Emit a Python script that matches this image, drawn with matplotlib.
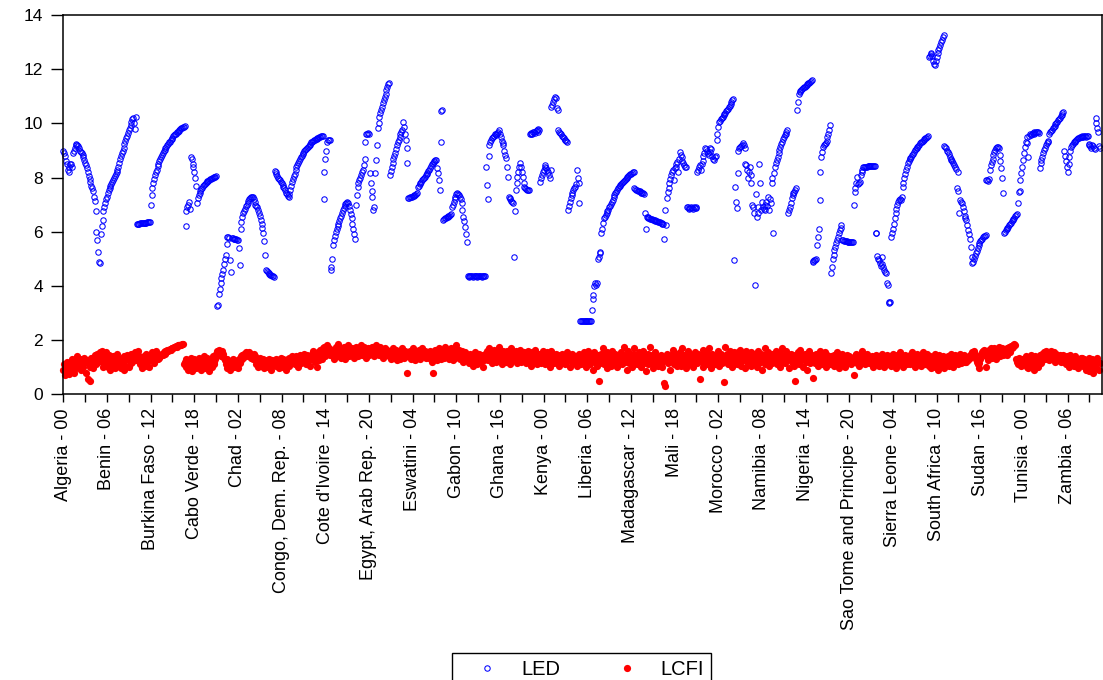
import matplotlib
matplotlib.use("Agg")
import matplotlib.pyplot as plt
from matplotlib import font_manager
import numpy as np

# panel: 54 countries x 22 years (2000-2021), stacked
countries = [
    "Algeria", "Angola", "Benin", "Botswana", "Burkina Faso", "Burundi",
    "Cabo Verde", "Cameroon", "Central African Republic", "Chad", "Comoros",
    "Congo, Dem. Rep.", "Congo, Rep.", "Cote d'Ivoire", "Djibouti",
    "Egypt, Arab Rep.", "Equatorial Guinea", "Eritrea", "Eswatini", "Ethiopia",
    "Gabon", "Gambia, The", "Ghana", "Guinea", "Guinea-Bissau", "Kenya",
    "Lesotho", "Liberia", "Libya", "Madagascar", "Malawi", "Mali",
    "Mauritania", "Mauritius", "Morocco", "Mozambique", "Namibia", "Niger",
    "Nigeria", "Rwanda", "Sao Tome and Principe", "Senegal", "Seychelles",
    "Sierra Leone", "Somalia", "South Africa", "South Sudan", "Sudan",
    "Tanzania", "Togo", "Tunisia", "Uganda", "Zambia", "Zimbabwe",
]
years = ["%02d" % y for y in range(22)]

led = [
    9.0, 8.9, 8.8, 8.6, 8.5, 8.3, 8.2, 8.4, 8.5, 8.5, 8.4, 8.9, 9.0, 9.1, 9.2, 9.25, 9.2, 9.15, 9.1, 9.0, 8.95, 8.9,
    8.85, 8.75, 8.65, 8.55, 8.45, 8.35, 8.2, 8.05, 7.95, 7.85, 7.7, 7.6, 7.5, 7.3, 7.15, 6.75, 6.0, 5.7, 5.25, 4.9, 4.85, 5.9,
    6.2, 6.45, 6.75, 6.9, 7.05, 7.2, 7.3, 7.45, 7.55, 7.62, 7.7, 7.78, 7.85, 7.92, 8.0, 8.05, 8.12, 8.2, 8.3, 8.4, 8.55, 8.7,
    8.8, 8.9, 9.0, 9.1, 9.25, 9.35, 9.45, 9.55, 9.65, 9.75, 9.85, 9.95, 10.05, 10.15, 10.2, 10.0, 9.8, 10.25, 6.28, 6.29, 6.3, 6.3,
    6.31, 6.31, 6.32, 6.32, 6.33, 6.33, 6.34, 6.34, 6.35, 6.35, 6.36, 6.36, 7.0, 7.35, 7.6, 7.8, 7.95, 8.1, 8.2, 8.3, 8.42, 8.5,
    8.6, 8.7, 8.77, 8.83, 8.9, 8.97, 9.02, 9.08, 9.14, 9.2, 9.25, 9.3, 9.33, 9.38, 9.43, 9.48, 9.52, 9.56, 9.6, 9.63, 9.67, 9.7,
    9.73, 9.76, 9.79, 9.82, 9.84, 9.86, 9.88, 9.9, 6.2, 6.75, 6.9, 7.0, 7.1, 6.85, 8.75, 8.7, 8.4, 8.5, 8.2, 8.0, 7.7, 7.05,
    7.25, 7.35, 7.45, 7.52, 7.58, 7.63, 7.68, 7.72, 7.76, 7.8, 7.83, 7.86, 7.89, 7.92, 7.94, 7.96, 7.98, 8.0, 8.02, 8.03, 8.04, 8.05,
    3.25, 3.3, 3.7, 3.9, 4.1, 4.3, 4.45, 4.6, 4.8, 5.0, 5.15, 5.55, 5.8, 5.8, 5.78, 4.95, 4.5, 5.78, 5.76, 5.75, 5.74, 5.73,
    5.72, 5.7, 5.7, 5.4, 4.77, 6.1, 6.35, 6.55, 6.68, 6.75, 6.85, 6.95, 7.0, 7.08, 7.15, 7.2, 7.25, 7.28, 7.3, 7.28, 7.2, 7.1,
    7.0, 6.95, 6.9, 6.8, 6.7, 6.6, 6.45, 6.3, 6.15, 5.95, 5.65, 5.15, 4.6, 4.55, 4.5, 4.47, 4.44, 4.42, 4.4, 4.38, 4.36, 4.34,
    8.25, 8.2, 8.12, 8.07, 8.0, 7.95, 7.9, 7.85, 7.8, 7.72, 7.66, 7.6, 7.53, 7.45, 7.38, 7.32, 7.3, 7.4, 7.55, 7.7, 7.85, 7.95,
    8.05, 8.15, 8.28, 8.38, 8.45, 8.55, 8.62, 8.7, 8.75, 8.8, 8.86, 8.92, 8.97, 9.02, 9.07, 9.1, 9.14, 9.18, 9.22, 9.26, 9.3, 9.33,
    9.36, 9.38, 9.4, 9.42, 9.44, 9.46, 9.48, 9.5, 9.51, 9.52, 9.53, 9.53, 7.2, 8.2, 8.7, 9.0, 9.3, 9.4, 9.38, 9.4, 4.6, 4.7,
    5.0, 5.5, 5.7, 5.85, 6.0, 6.1, 6.2, 6.3, 6.4, 6.5, 6.6, 6.7, 6.8, 6.88, 6.95, 7.02, 7.08, 7.11, 7.05, 6.95, 6.8, 6.65,
    6.5, 6.3, 6.1, 5.9, 5.73, 6.99, 7.36, 7.66, 7.8, 7.9, 8.0, 8.1, 8.2, 8.28, 8.46, 8.67, 9.3, 9.6, 9.63, 9.65, 9.6, 8.16,
    7.79, 7.5, 7.3, 6.8, 6.92, 8.16, 8.65, 9.2, 9.82, 10.0, 10.25, 10.4, 10.5, 10.62, 10.74, 10.86, 10.99, 11.1, 11.23, 11.35, 11.45, 11.48,
    8.1, 8.25, 8.4, 8.55, 8.7, 8.8, 8.9, 9.05, 9.2, 9.3, 9.4, 9.5, 9.6, 9.7, 9.76, 10.07, 9.88, 9.6, 9.39, 9.08, 8.53, 7.25,
    7.25, 7.27, 7.28, 7.3, 7.32, 7.33, 7.35, 7.37, 7.4, 7.42, 7.66, 7.7, 7.75, 7.8, 7.85, 7.9, 7.95, 8.0, 8.03, 8.08, 8.13, 8.18,
    8.23, 8.28, 8.35, 8.42, 8.5, 8.55, 8.58, 8.62, 8.65, 8.65, 8.34, 8.16, 7.9, 7.54, 9.33, 10.45, 10.5, 6.45, 6.48, 6.5, 6.52, 6.55,
    6.55, 6.58, 6.6, 6.62, 6.65, 6.93, 7.0, 7.1, 7.2, 7.3, 7.38, 7.42, 7.4, 7.35, 7.3, 7.2, 7.05, 6.8, 6.55, 6.4, 6.19, 5.9,
    5.63, 4.35, 4.35, 4.34, 4.35, 4.36, 4.35, 4.34, 4.35, 4.35, 4.36, 4.35, 4.34, 4.35, 4.35, 4.36, 4.35, 4.34, 4.35, 4.35, 4.36, 4.35,
    8.4, 7.73, 7.2, 8.8, 9.2, 9.3, 9.4, 9.45, 9.5, 9.55, 9.6, 9.58, 9.62, 9.65, 9.7, 9.75, 9.6, 9.5, 9.35, 9.27, 9.2, 9.0,
    8.85, 8.71, 8.4, 8.03, 7.3, 7.25, 7.2, 7.15, 7.1, 7.05, 5.07, 6.75, 7.54, 7.79, 8.03, 8.22, 8.4, 8.53, 8.4, 8.2, 8.03, 7.79,
    7.66, 7.6, 7.58, 7.56, 7.55, 7.55, 9.6, 9.62, 9.65, 9.6, 9.68, 9.7, 9.65, 9.72, 9.75, 9.7, 9.78, 9.75, 7.85, 8.0, 8.1, 8.2,
    8.3, 8.4, 8.46, 8.35, 8.3, 8.2, 8.1, 7.97, 8.3, 10.62, 10.7, 10.8, 10.9, 10.96, 10.95, 10.56, 10.5, 9.76, 9.7, 9.65, 9.6, 9.55,
    9.5, 9.45, 9.4, 9.39, 9.35, 9.3, 6.8, 6.95, 7.1, 7.25, 7.35, 7.45, 7.55, 7.6, 7.66, 7.75, 8.28, 8.0, 7.8, 7.05, 2.7, 2.7,
    2.7, 2.7, 2.7, 2.7, 2.7, 2.7, 2.7, 2.7, 2.7, 2.7, 2.7, 3.1, 3.5, 3.66, 4.0, 4.1, 4.05, 4.1, 5.0, 5.05, 5.2, 5.26,
    5.94, 6.1, 6.31, 6.5, 6.56, 6.62, 6.68, 6.75, 6.82, 6.9, 6.97, 7.04, 7.1, 7.19, 7.28, 7.36, 7.42, 7.48, 7.54, 7.6, 7.64, 7.68,
    7.72, 7.76, 7.8, 7.85, 7.88, 7.92, 7.96, 8.0, 8.03, 8.06, 8.09, 8.12, 8.15, 8.18, 8.2, 8.22, 7.6, 7.58, 7.55, 7.55, 7.5, 7.52,
    7.5, 7.48, 7.45, 7.45, 7.42, 7.4, 6.7, 6.1, 6.55, 6.53, 6.52, 6.5, 6.49, 6.47, 6.46, 6.45, 6.44, 6.42, 6.41, 6.4, 6.39, 6.37,
    6.36, 6.35, 6.33, 6.32, 6.3, 6.28, 5.75, 6.8, 6.25, 7.23, 7.48, 7.6, 7.79, 7.95, 8.1, 8.2, 8.28, 7.9, 8.35, 8.4, 8.5, 8.59,
    8.22, 8.7, 8.96, 8.85, 8.75, 8.6, 8.53, 8.45, 8.4, 8.4, 6.9, 6.9, 6.88, 6.85, 6.87, 6.9, 6.86, 6.85, 6.9, 6.88, 6.86, 6.9,
    8.2, 8.3, 8.4, 8.45, 8.3, 8.5, 8.8, 8.6, 8.9, 9.1, 9.05, 9.0, 8.9, 8.85, 8.95, 9.1, 9.05, 8.8, 8.7, 8.65, 8.75, 8.8,
    9.39, 9.6, 9.88, 10.05, 10.1, 10.15, 10.2, 10.25, 10.3, 10.35, 10.4, 10.45, 10.5, 10.55, 10.6, 10.65, 10.72, 10.8, 10.85, 10.9, 4.95, 7.66,
    7.11, 6.86, 8.16, 9.0, 9.1, 9.14, 9.18, 9.22, 9.27, 9.2, 9.1, 8.5, 8.46, 8.3, 8.0, 8.2, 8.4, 8.1, 7.8, 7.0, 6.9, 6.7,
    4.03, 7.4, 6.55, 6.9, 6.7, 8.5, 7.8, 6.8, 7.1, 6.9, 6.85, 7.0, 6.8, 7.1, 6.95, 7.3, 6.8, 7.2, 7.05, 7.97, 7.79, 5.94,
    8.16, 8.4, 8.55, 8.65, 8.78, 8.9, 9.02, 9.14, 9.24, 9.33, 9.42, 9.51, 9.57, 9.63, 9.7, 9.76, 6.68, 6.8, 6.93, 7.08, 7.23, 7.35,
    7.42, 7.48, 7.55, 7.6, 10.5, 10.8, 11.1, 11.15, 11.2, 11.23, 11.27, 11.3, 11.33, 11.36, 11.4, 11.42, 11.45, 11.48, 11.5, 11.53, 11.56, 11.6,
    4.9, 4.92, 4.95, 4.97, 5.0, 5.5, 5.8, 6.12, 7.17, 8.22, 8.77, 8.95, 9.14, 9.2, 9.24, 9.27, 9.35, 9.51, 9.6, 9.75, 9.94, 4.46,
    4.7, 5.0, 5.15, 5.33, 5.45, 5.57, 5.7, 5.81, 5.94, 6.06, 6.15, 6.25, 5.7, 5.68, 5.67, 5.66, 5.65, 5.65, 5.64, 5.64, 5.63, 5.63,
    5.63, 5.62, 5.62, 6.99, 7.48, 7.6, 7.79, 8.03, 7.75, 7.8, 7.85, 8.1, 8.2, 8.3, 8.38, 8.4, 8.4, 8.41, 8.41, 8.42, 8.42, 8.42,
    8.42, 8.43, 8.43, 8.43, 8.43, 8.43, 5.94, 5.95, 5.1, 5.0, 4.95, 4.85, 4.75, 5.05, 4.8, 4.7, 4.6, 4.5, 4.46, 4.1, 4.05, 3.4,
    3.38, 3.4, 5.8, 5.95, 6.1, 6.3, 6.5, 6.7, 6.85, 7.0, 7.1, 7.17, 7.2, 7.17, 7.3, 7.66, 7.8, 7.97, 8.12, 8.28, 8.4, 8.53,
    8.6, 8.67, 8.72, 8.77, 8.83, 8.88, 8.95, 9.02, 9.06, 9.1, 9.14, 9.18, 9.22, 9.27, 9.3, 9.33, 9.36, 9.39, 9.42, 9.45, 9.48, 9.5,
    9.53, 12.45, 12.5, 12.55, 12.6, 12.5, 12.3, 12.2, 12.16, 12.3, 12.47, 12.6, 12.7, 12.78, 12.9, 13.0, 13.1, 13.2, 13.27, 9.17, 9.14, 9.1,
    9.0, 8.95, 8.87, 8.77, 8.7, 8.65, 8.6, 8.53, 8.47, 8.4, 8.32, 7.6, 8.22, 7.5, 6.68, 7.17, 7.1, 7.05, 6.9, 6.75, 6.6, 6.5,
    6.43, 6.25, 6.06, 5.9, 5.75, 5.45, 5.08, 4.86, 4.9, 5.0, 5.1, 5.2, 5.3, 5.4, 5.5, 5.58, 5.65, 5.7, 5.75, 5.8, 5.83, 5.86,
    5.88, 7.9, 7.92, 7.88, 7.95, 8.28, 8.45, 8.59, 8.7, 8.83, 8.95, 9.02, 9.1, 9.14, 9.12, 9.08, 8.83, 8.6, 8.34, 7.97, 7.42, 5.94,
    6.0, 6.05, 6.1, 6.15, 6.19, 6.24, 6.29, 6.34, 6.38, 6.43, 6.48, 6.52, 6.57, 6.62, 6.65, 7.05, 7.48, 7.5, 7.9, 8.16, 8.4, 8.65,
    8.9, 9.14, 9.33, 9.5, 9.27, 8.77, 9.55, 9.6, 9.58, 9.62, 9.65, 9.6, 9.68, 9.65, 9.7, 9.68, 9.7, 9.65, 8.34, 8.53, 8.65, 8.77,
    8.9, 9.02, 9.1, 9.2, 9.27, 9.35, 9.3, 9.63, 9.68, 9.72, 9.77, 9.82, 9.87, 9.92, 9.97, 10.02, 10.07, 10.12, 10.17, 10.22, 10.27, 10.32,
    10.37, 10.43, 9.0, 8.8, 8.6, 8.4, 8.2, 8.5, 8.75, 9.0, 9.14, 9.2, 9.25, 9.3, 9.33, 9.36, 9.39, 9.42, 9.45, 9.47, 9.49, 9.5,
    9.5, 9.52, 9.5, 9.53, 9.55, 9.5, 9.55, 9.52, 9.25, 9.2, 9.15, 9.1, 9.2, 9.15, 9.1, 9.05, 10.2, 10.0, 9.85, 9.7, 9.15, 9.1,
]

lcfi = [
    0.9, 1.1, 0.7, 1.0, 1.2, 0.85, 1.05, 0.75, 1.15, 0.95, 1.3, 1.0, 0.8, 1.1, 1.25, 0.95, 1.4, 1.2, 1.05, 1.3, 0.9, 1.15,
    1.3, 1.0, 1.35, 1.2, 0.8, 1.25, 0.55, 1.1, 0.5, 1.0, 1.35, 1.2, 0.95, 1.25, 1.45, 1.1, 1.3, 1.5, 1.2, 1.4, 1.55, 1.3,
    1.6, 1.2, 1.0, 1.4, 1.1, 1.55, 1.3, 1.0, 1.45, 1.2, 0.9, 1.3, 1.1, 1.4, 1.25, 0.95, 1.35, 1.15, 1.5, 1.05, 1.3, 1.2,
    0.95, 1.35, 1.1, 1.4, 0.9, 1.25, 1.05, 1.45, 1.3, 1.0, 1.35, 1.15, 1.5, 1.2, 1.4, 1.3, 1.55, 1.25, 1.45, 1.35, 1.6, 1.4,
    1.1, 1.35, 0.95, 1.25, 1.4, 1.05, 1.3, 1.5, 1.2, 1.4, 1.0, 1.35, 1.25, 1.55, 1.3, 1.45, 1.15, 1.4, 1.6, 1.35, 1.5, 1.3,
    1.35, 1.4, 1.45, 1.5, 1.45, 1.55, 1.5, 1.6, 1.55, 1.62, 1.6, 1.65, 1.68, 1.65, 1.7, 1.72, 1.7, 1.75, 1.74, 1.78, 1.76, 1.8,
    1.8, 1.82, 1.83, 1.8, 1.84, 1.85, 1.1, 1.2, 1.0, 1.3, 1.15, 0.9, 1.25, 1.05, 1.35, 0.85, 1.2, 1.0, 1.3, 1.1, 0.95, 1.25,
    1.15, 1.35, 1.0, 1.25, 0.9, 1.3, 1.1, 1.4, 0.95, 1.2, 1.35, 1.05, 1.25, 0.85, 1.3, 1.15, 1.0, 1.4, 1.2, 1.1, 1.3, 1.5,
    1.6, 1.45, 1.65, 1.5, 1.55, 1.4, 1.6, 1.5, 1.35, 1.25, 1.1, 0.95, 1.3, 1.0, 1.2, 0.9, 1.15, 1.05, 1.3, 1.0, 1.25, 1.1,
    1.0, 1.2, 0.95, 1.3, 1.15, 1.4, 1.25, 1.45, 1.35, 1.5, 1.4, 1.55, 1.45, 1.5, 1.4, 1.55, 1.5, 1.35, 1.45, 1.3, 1.5, 1.4,
    1.3, 1.1, 1.25, 1.0, 1.2, 1.35, 1.05, 1.25, 1.15, 1.3, 0.95, 1.2, 1.1, 1.25, 1.0, 1.3, 1.15, 1.2, 0.9, 1.25, 1.1, 1.2,
    1.2, 1.05, 1.3, 1.1, 1.25, 0.95, 1.2, 1.35, 1.0, 1.15, 1.3, 1.1, 1.25, 0.9, 1.2, 1.3, 1.05, 1.35, 1.15, 1.25, 1.4, 1.2,
    1.3, 1.1, 1.4, 1.2, 1.35, 1.0, 1.25, 1.45, 1.15, 1.3, 1.4, 1.2, 1.5, 1.3, 1.1, 1.45, 1.25, 1.35, 1.05, 1.4, 1.3, 1.5,
    1.6, 1.4, 1.2, 1.5, 1.0, 1.35, 1.55, 1.25, 1.65, 1.45, 1.3, 1.7, 1.5, 1.75, 1.4, 1.6, 1.8, 1.55, 1.7, 1.45, 1.65, 1.5,
    1.5, 1.65, 1.3, 1.55, 1.75, 1.4, 1.6, 1.85, 1.5, 1.7, 1.35, 1.6, 1.45, 1.75, 1.55, 1.3, 1.65, 1.5, 1.8, 1.4, 1.6, 1.5,
    1.45, 1.7, 1.55, 1.35, 1.6, 1.75, 1.5, 1.65, 1.4, 1.7, 1.55, 1.8, 1.45, 1.6, 1.75, 1.5, 1.65, 1.35, 1.55, 1.7, 1.45, 1.6,
    1.7, 1.5, 1.75, 1.6, 1.4, 1.65, 1.8, 1.55, 1.7, 1.45, 1.6, 1.75, 1.5, 1.65, 1.35, 1.55, 1.7, 1.6, 1.45, 1.65, 1.5, 1.4,
    1.55, 1.3, 1.6, 1.45, 1.7, 1.35, 1.5, 1.65, 1.25, 1.55, 1.4, 1.6, 1.3, 1.5, 1.7, 1.45, 1.35, 1.6, 1.5, 0.8, 1.4, 1.55,
    1.45, 1.6, 1.3, 1.5, 1.7, 1.4, 1.55, 1.25, 1.6, 1.45, 1.35, 1.65, 1.5, 1.3, 1.55, 1.7, 1.4, 1.5, 1.6, 1.35, 1.55, 1.45,
    1.5, 1.35, 1.6, 1.4, 1.2, 0.8, 1.55, 1.3, 1.65, 1.45, 1.25, 1.5, 1.7, 1.4, 1.55, 1.3, 1.6, 1.45, 1.35, 1.75, 1.5, 1.4,
    1.6, 1.4, 1.3, 1.55, 1.7, 1.45, 1.25, 1.6, 1.5, 1.35, 1.8, 1.55, 1.4, 1.65, 1.3, 1.5, 1.45, 1.6, 1.2, 1.4, 1.55, 1.35,
    1.3, 1.45, 1.15, 1.35, 1.5, 1.2, 1.4, 1.05, 1.3, 1.55, 1.25, 1.4, 1.1, 1.35, 1.5, 1.2, 1.45, 1.3, 1.0, 1.4, 1.25, 1.5,
    1.35, 1.6, 1.25, 1.45, 1.7, 1.3, 1.55, 1.15, 1.4, 1.65, 1.35, 1.5, 1.2, 1.6, 1.4, 1.75, 1.3, 1.5, 1.1, 1.45, 1.6, 1.35,
    1.45, 1.2, 1.6, 1.35, 1.5, 1.1, 1.4, 1.7, 1.3, 1.55, 1.25, 1.45, 1.6, 1.15, 1.4, 1.5, 1.3, 1.65, 1.2, 1.45, 1.35, 1.55,
    1.3, 1.5, 1.15, 1.4, 1.6, 1.25, 1.45, 1.05, 1.35, 1.55, 1.2, 1.4, 1.65, 1.3, 1.1, 1.45, 1.25, 1.5, 1.35, 1.15, 1.4, 1.6,
    1.25, 1.4, 1.1, 1.35, 1.55, 1.2, 1.45, 1.0, 1.3, 1.6, 1.25, 1.4, 1.15, 1.35, 1.5, 1.2, 1.45, 1.3, 1.05, 1.4, 1.25, 1.5,
    1.35, 1.2, 1.45, 1.1, 1.3, 1.55, 1.25, 1.4, 1.0, 1.35, 1.2, 1.5, 1.3, 1.15, 1.4, 1.25, 1.05, 1.35, 1.5, 1.2, 1.3, 1.1,
    1.4, 1.15, 1.55, 1.3, 1.0, 1.45, 1.2, 1.6, 1.35, 1.1, 1.5, 1.25, 0.9, 1.4, 1.55, 1.2, 1.35, 1.05, 1.45, 0.5, 1.3, 1.15,
    1.5, 1.25, 1.7, 1.1, 1.4, 1.3, 0.95, 1.55, 1.2, 1.45, 1.35, 1.05, 1.6, 1.25, 1.4, 1.15, 1.5, 1.3, 1.0, 1.45, 1.2, 1.35,
    1.25, 1.55, 1.1, 1.35, 1.75, 1.2, 1.45, 0.9, 1.3, 1.6, 1.15, 1.4, 1.25, 1.0, 1.5, 1.3, 1.7, 1.2, 1.4, 1.1, 1.35, 1.55,
    1.2, 1.45, 1.0, 1.3, 1.6, 1.15, 1.4, 0.85, 1.25, 1.5, 1.1, 1.35, 1.75, 1.2, 1.45, 0.95, 1.3, 1.55, 1.15, 1.4, 1.25, 1.05,
    1.3, 1.1, 1.45, 1.2, 1.0, 1.35, 0.4, 0.3, 1.35, 1.5, 1.15, 1.4, 1.25, 0.9, 1.45, 1.3, 1.65, 1.1, 1.35, 1.2, 1.5, 1.05,
    1.4, 1.2, 1.55, 1.05, 1.35, 1.7, 1.15, 1.45, 1.25, 0.95, 1.4, 1.6, 1.1, 1.3, 1.5, 1.2, 1.45, 1.0, 1.35, 1.55, 1.25, 1.4,
    1.15, 1.5, 1.3, 0.55, 1.45, 1.2, 1.65, 1.0, 1.35, 1.25, 1.55, 1.1, 1.4, 1.7, 1.2, 1.35, 0.95, 1.5, 1.25, 1.4, 1.1, 1.3,
    1.45, 1.2, 1.6, 1.05, 1.35, 1.5, 1.15, 1.3, 0.45, 1.4, 1.75, 1.25, 1.5, 1.1, 1.35, 1.6, 1.2, 1.45, 1.0, 1.3, 1.55, 1.25,
    1.4, 1.1, 1.55, 1.3, 1.2, 1.65, 1.05, 1.4, 1.25, 1.5, 0.95, 1.35, 1.6, 1.2, 1.45, 1.15, 1.3, 1.55, 1.05, 1.4, 1.25, 1.5,
    1.2, 1.45, 1.0, 1.35, 1.6, 1.15, 1.3, 1.5, 0.9, 1.25, 1.45, 1.1, 1.7, 1.35, 1.2, 1.55, 1.05, 1.4, 1.3, 1.5, 1.15, 1.35,
    1.45, 1.25, 1.6, 1.1, 1.4, 1.3, 1.55, 1.0, 1.35, 1.7, 1.2, 1.45, 1.15, 1.3, 1.6, 1.25, 1.4, 0.95, 1.35, 1.5, 1.2, 1.45,
    1.3, 1.05, 0.5, 1.4, 1.2, 1.55, 1.1, 1.35, 1.65, 1.25, 1.45, 1.0, 1.3, 1.5, 1.2, 1.4, 0.9, 1.35, 1.6, 1.15, 1.3, 1.45,
    1.25, 0.6, 1.4, 1.15, 1.5, 1.3, 1.05, 1.45, 1.2, 1.6, 1.35, 1.1, 1.4, 1.25, 1.55, 1.0, 1.3, 1.45, 1.2, 1.35, 1.1, 1.4,
    1.3, 1.15, 1.45, 1.05, 1.35, 1.2, 1.55, 1.25, 0.95, 1.4, 1.3, 1.1, 1.5, 1.2, 1.35, 1.0, 1.25, 1.45, 1.15, 1.3, 1.4, 1.2,
    1.1, 1.35, 1.2, 0.7, 1.4, 1.25, 1.5, 1.15, 1.3, 1.05, 1.45, 1.2, 1.35, 1.6, 1.25, 1.4, 1.1, 1.3, 1.5, 1.2, 1.35, 1.15,
    1.3, 1.15, 1.4, 1.0, 1.25, 1.35, 1.1, 1.45, 1.2, 1.3, 1.05, 1.4, 1.25, 1.5, 1.15, 1.3, 1.0, 1.35, 1.2, 1.45, 1.1, 1.3,
    1.2, 1.4, 1.05, 1.3, 1.5, 1.15, 1.35, 0.95, 1.25, 1.45, 1.1, 1.3, 1.55, 1.2, 1.4, 1.0, 1.3, 1.15, 1.45, 1.25, 1.1, 1.35,
    1.25, 1.45, 1.1, 1.35, 1.55, 1.2, 1.4, 1.0, 1.3, 1.5, 1.15, 1.35, 1.25, 1.45, 1.05, 1.3, 1.55, 1.2, 1.4, 1.1, 1.3, 1.5,
    1.3, 1.05, 1.4, 0.95, 1.2, 1.35, 1.0, 1.25, 1.5, 1.1, 1.3, 0.9, 1.2, 1.45, 1.05, 1.3, 1.15, 1.4, 0.95, 1.25, 1.35, 1.1,
    1.2, 1.4, 1.05, 1.3, 1.5, 1.15, 1.35, 1.0, 1.25, 1.45, 1.2, 1.35, 1.1, 1.4, 1.25, 1.5, 1.15, 1.3, 1.2, 1.45, 1.25, 1.2,
    1.2, 1.3, 1.25, 1.4, 1.35, 1.5, 1.45, 1.55, 1.4, 1.6, 1.5, 1.3, 1.2, 1.1, 0.95, 1.15, 1.3, 1.45, 1.55, 1.6, 1.65, 1.6,
    1.0, 1.4, 1.6, 1.25, 1.65, 1.5, 1.7, 1.35, 1.6, 1.45, 1.72, 1.55, 1.3, 1.68, 1.5, 1.75, 1.4, 1.6, 1.55, 1.7, 1.45, 1.62,
    1.5, 1.65, 1.45, 1.7, 1.6, 1.75, 1.55, 1.78, 1.7, 1.8, 1.76, 1.84, 1.82, 1.3, 1.2, 1.1, 1.35, 1.15, 1.25, 1.05, 1.3, 1.1,
    1.3, 1.1, 1.4, 1.0, 1.25, 0.95, 1.35, 1.15, 1.45, 1.05, 1.3, 0.9, 1.2, 1.4, 1.1, 1.35, 1.0, 1.25, 1.45, 1.15, 1.3, 1.5,
    1.4, 1.55, 1.3, 1.6, 1.45, 1.35, 1.5, 1.25, 1.45, 1.6, 1.3, 1.4, 1.55, 1.2, 1.35, 1.5, 1.25, 1.4, 1.3, 1.45, 1.2, 1.35,
    1.3, 1.45, 1.2, 1.35, 1.1, 1.4, 1.25, 1.0, 1.3, 1.45, 1.15, 1.35, 1.2, 1.05, 1.3, 1.4, 1.1, 1.25, 0.95, 1.3, 1.15, 1.35,
    1.2, 1.35, 1.05, 1.3, 1.15, 0.9, 1.25, 1.1, 1.35, 0.85, 1.2, 1.05, 1.3, 0.8, 1.15, 0.95, 1.25, 1.1, 1.35, 1.2, 0.9, 1.15,
]

n_obs = len(countries) * len(years)
assert len(led) == n_obs, len(led)
assert len(lcfi) == n_obs, len(lcfi)
obs = np.arange(n_obs)


def has_font(name):
    try:
        font_manager.findfont(font_manager.FontProperties(family=name),
                              fallback_to_default=False)
        return True
    except ValueError:
        return False


plt.rcParams['font.family'] = ['Liberation Sans', 'DejaVu Sans']
if has_font('Liberation Sans Narrow'):
    xfont, xsize = 'Liberation Sans Narrow', 16
else:
    xfont, xsize = 'Liberation Sans', 13

W, H = 1103, 680
fig = plt.figure(figsize=(W / 100, H / 100), dpi=100)
ax = fig.add_axes([63.3 / W, 1 - 394.2 / H, (1101.7 - 63.3) / W, (394.2 - 15.2) / H])

ax.plot(obs, led, linestyle='none', marker='o', ms=3.9, mfc='none',
        mec='#0000ff', mew=0.75, clip_on=False, label='LED')
ax.plot(obs, lcfi, linestyle='none', marker='o', ms=5.2, mfc='#ff0000',
        mec='#ff0000', mew=0, clip_on=False, label='LCFI')

ax.set_xlim(0, 1189)
ax.set_ylim(0, 14)
ax.set_yticks(range(0, 15, 2))
ax.tick_params(axis='y', direction='out', length=8.5, width=1, pad=6,
               labelsize=12.5, colors='black')

ticks = np.arange(0, n_obs - 10, 25)
labels = []
for t in ticks:
    if t % 50 == 0:
        labels.append("%s - %s" % (countries[t // len(years)], years[t % len(years)]))
    else:
        labels.append("")
ax.set_xticks(ticks)
ax.set_xticklabels(labels, rotation=90, family=xfont, fontsize=xsize, va='top', ha='center')
ax.tick_params(axis='x', direction='out', length=6, width=1, pad=4, colors='black')

for sp in ax.spines.values():
    sp.set_linewidth(1.1)
    sp.set_color('black')

leg = fig.legend(loc='upper center', bbox_to_anchor=(581.5 / W, 1 - 653 / H),
                 ncol=2, fontsize=14.5, frameon=True, fancybox=False,
                 edgecolor='black', framealpha=1, borderpad=0.35,
                 handlelength=2.8, handletextpad=0.3, columnspacing=1.9,
                 borderaxespad=0)
leg.get_frame().set_linewidth(1.0)

fig.savefig('out.png', dpi=100)
